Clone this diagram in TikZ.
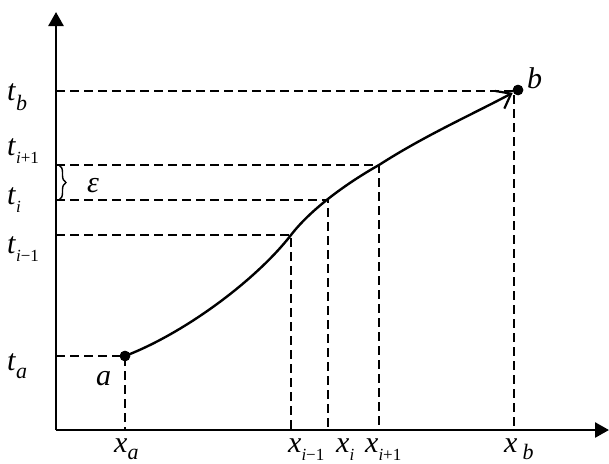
\documentclass[tikz,border=0pt]{standalone}
\usepackage{fontspec}
\setmainfont{Liberation Serif}
\usetikzlibrary{arrows.meta,decorations.pathreplacing}
\newcommand{\sbi}[1]{\raisebox{-8pt}{\fontsize{17}{17}\selectfont #1}}
\newcommand{\sbl}[2]{\raisebox{-#1}{\fontsize{22}{22}\selectfont\textit{#2}}}
\begin{document}
\begin{tikzpicture}[x=1pt,y=1pt,
  axis/.style={line width=2.6pt},
  guide/.style={line width=1.8pt,dash pattern=on 9pt off 5pt},
  curve/.style={line width=2.4pt},
  lab/.style={anchor=base west,inner sep=0pt,font=\fontsize{30}{32}\selectfont},
  dotpt/.style={circle,fill=black,inner sep=0pt,minimum size=10.5pt}
]
\useasboundingbox (0,0) rectangle (609,-463);
% axes
\coordinate (O) at (56,-430);
\coordinate (ytop) at (56,-12);
\coordinate (xend) at (609,-430);
% points
\node[dotpt] (A) at (125,-356) {};
\node[dotpt] (B) at (518,-90) {};
\coordinate (Bx) at (514,-91);
\coordinate (P1) at (291,-235);
\coordinate (P2) at (328,-200);
\coordinate (P3) at (379,-165);
% dashed guides
\draw[guide] (O |- Bx) -- (Bx) -- (Bx |- O);
\draw[guide] (O |- P3) -- (P3) -- (P3 |- O);
\draw[guide] (O |- P2) -- (P2) -- (P2 |- O);
\draw[guide] (O |- P1) -- (P1) -- (P1 |- O);
\draw[guide] (O |- A.center) -- (A.center) -- (A.center |- O);
% axes drawn over
\draw[axis,-{Triangle[length=14pt,width=15pt]}] (O) -- (ytop);
\draw[axis,-{Triangle[length=14pt,width=15pt]}] (O) -- (xend);
% curve
\draw[curve,-{Straight Barb[length=13pt,width=20pt,line width=2.2pt]},shorten >=6pt]
  (A.center) .. controls (185,-333) and (256,-280) .. (P1)
  .. controls (311,-209) and (347,-183) .. (P3)
  .. controls (424,-136) and (471,-115) .. (B.center);
\node[dotpt] at (A.center) {};
\node[dotpt] at (B.center) {};
% brace
\draw[line width=1.4pt,decorate,decoration={brace,amplitude=7pt}] (59,-165) -- (59,-200);
% labels
\node[lab] (ltb) at (7,-100) {\textit{t}\sbl{10pt}{b}};
\node[lab] (lti1) at (7,-155) {\textit{t}\sbi{\textit{i}+1}};
\node[lab] (lti) at (7,-204) {\textit{t}\sbi{\textit{i}}};
\node[lab] (ltim) at (7,-253) {\textit{t}\sbi{\textit{i}−1}};
\node[lab] (lta) at (7,-370) {\textit{t}\sbl{8pt}{a}};
\node[lab] (leps) at (87,-192) {\textit{ε}};
\node[lab] (la) at (96,-385) {\textit{a}};
\node[lab] (lb) at (527,-88) {\textit{b}};
\node[lab] (lxa) at (114,-452) {\textit{x}\sbl{7pt}{a}};
\node[lab] (lxim) at (288,-452) {\textit{x}\sbi{\textit{i}−1}};
\node[lab] (lxi) at (336,-452) {\textit{x}\sbi{\textit{i}}};
\node[lab] (lxi1) at (365,-452) {\textit{x}\sbi{\textit{i}+1}};
\node[lab] (lxb) at (504,-452) {\textit{x}\hspace{5pt}\sbl{7pt}{b}};
\end{tikzpicture}
\end{document}
